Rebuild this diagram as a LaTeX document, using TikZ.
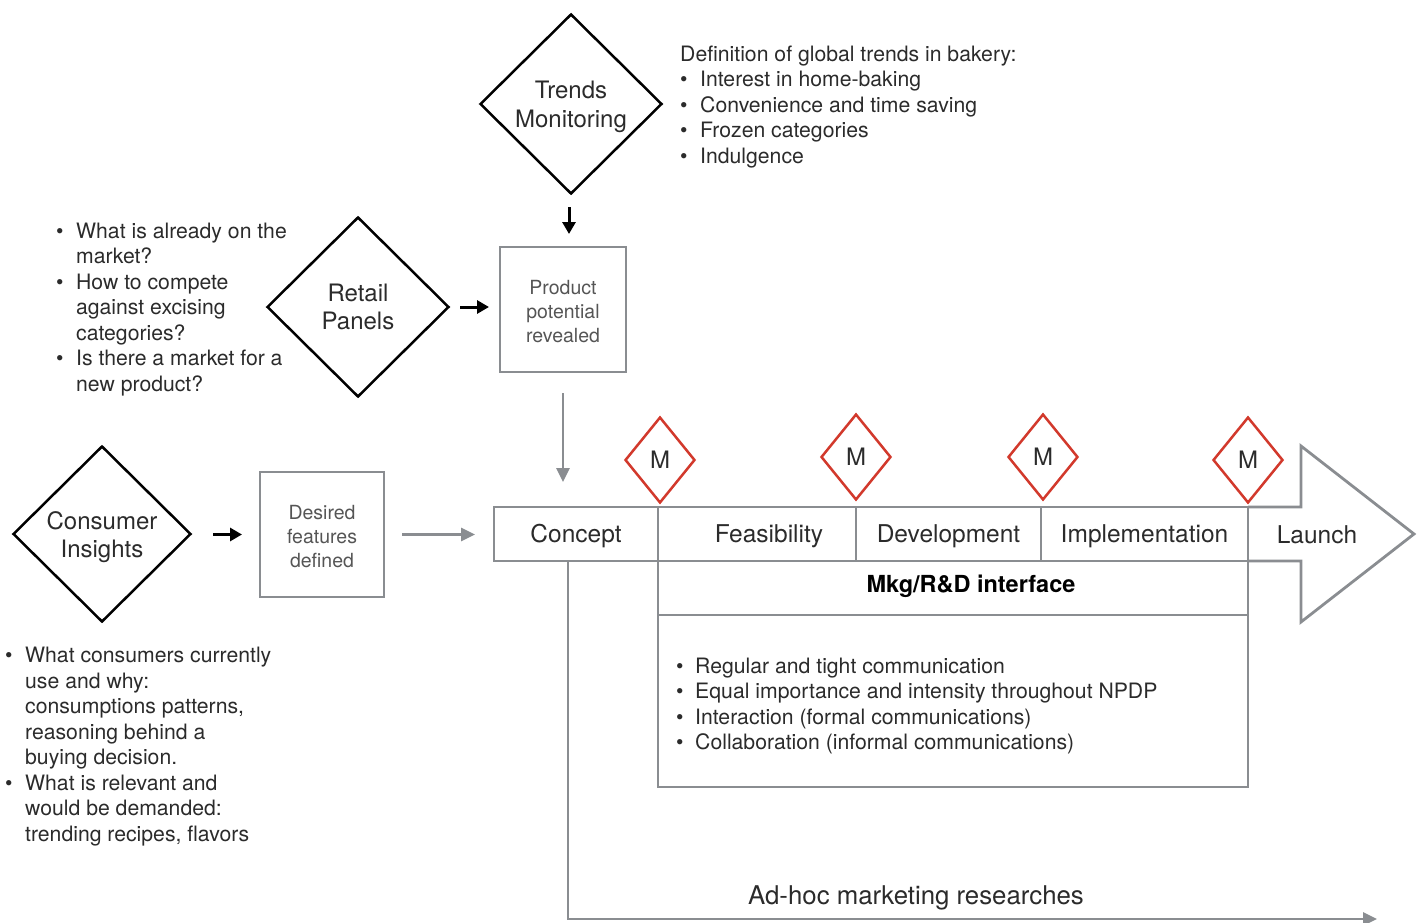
\documentclass[tikz,border=0pt]{standalone}
\usepackage{fontspec}
\setmainfont{TeX Gyre Heros}
\usetikzlibrary{shapes.geometric,arrows.meta,calc}
\definecolor{lgray}{HTML}{8A8D91}
\definecolor{mred}{HTML}{D2392C}
\definecolor{txt}{HTML}{2B2B2B}
\definecolor{btxt}{HTML}{555555}
\newcommand{\mybul}{\makebox[20pt][l]{\textbullet}}
\newcommand{\myind}{\hspace*{20pt}}
\begin{document}
\begin{tikzpicture}[x=1pt,y=-1pt,
  dia/.style={diamond, draw=black, line width=2.5pt, inner sep=0pt, minimum width=182pt, minimum height=180pt},
  dtext/.style={align=center, inner sep=0pt, font=\fontsize{24}{28.5}\selectfont, text=txt},
  gbox/.style={rectangle, draw=lgray, line width=2.8pt, inner sep=0pt, outer sep=0pt},
  btext/.style={align=center, inner sep=0pt, font=\fontsize{19.5}{24}\selectfont, text=btxt},
  stage/.style={rectangle, draw=lgray, line width=2.8pt, inner sep=0pt, outer sep=0pt, minimum height=54pt, text height=20pt, text depth=2.4pt, font=\fontsize{24.5}{28}\selectfont, text=txt},
  mdia/.style={diamond, draw=mred, line width=2.5pt, fill=white, inner sep=0pt, minimum width=70pt, minimum height=86pt, font=\fontsize{24}{28}\selectfont, text=txt},
  blk/.style={-{Triangle[length=12pt,width=13pt]}, line width=3pt, black},
  gar/.style={-{Triangle[length=14pt,width=13pt]}, line width=2.6pt, lgray},
  blist/.style={anchor=base west, align=left, inner sep=0pt, font=\fontsize{21.2}{25.5}\selectfont, text=txt},
]
\useasboundingbox (0,0) rectangle (1422,923);

% diamonds
\node[dia] (trends) at (571,104) {};
\node[dtext] (trendstext) at ([yshift=-3pt]trends.center) {Trends\\Monitoring};
\node[dia] (retail) at (358,307) {};
\node[dtext] (retailtext) at ([yshift=0pt]retail.center) {Retail\\Panels};
\node[dia, minimum width=178pt, minimum height=176pt] (consumer) at (102,534) {};
\node[dtext] (constext) at ([yshift=-3pt]consumer.center) {Consumer\\Insights};

% boxes
\node[gbox, minimum width=126pt, minimum height=125pt] (product) at (563,309.5) {};
\node[btext] (producttext) at ([yshift=-2pt]product.center) {Product\\potential\\revealed};
\node[gbox, minimum width=124pt, minimum height=125pt] (desired) at (322,534.5) {};
\node[btext] (desiredtext) at ([yshift=-2pt]desired.center) {Desired\\features\\defined};

% stages
\node[stage, minimum width=164pt] (concept) at (576,534) {Concept};
\node[stage, minimum width=198pt] (feas) at (757,534) {\hspace*{24pt}Feasibility};
\node[stage, minimum width=185pt] (dev) at (948.5,534) {Development};
\node[stage, minimum width=207pt] (impl) at (1144.5,534) {Implementation};
\draw[lgray, line width=2.8pt, line join=miter] (impl.north east) -- (1301,507) -- (1301,446) -- (1414,534) -- (1301,622) -- (1301,561) -- (impl.south east);
\node[font=\fontsize{24.5}{28}\selectfont, text=txt] (launch) at (1317,534.5) {Launch};

% interface
\node[rectangle, draw=lgray, line width=2.8pt, outer sep=0pt, minimum width=590pt, minimum height=54pt, inner sep=0pt] (mkg) at (953,588) {};
\node[font=\bfseries\fontsize{23.5}{26}\selectfont, text=black] (mkgtitle) at (971,586.5) {Mkg/R\&D interface};
\node[rectangle, draw=lgray, line width=2.8pt, outer sep=0pt, minimum width=590pt, minimum height=172pt, inner sep=0pt] (mkglist) at (953,701) {};

% M diamonds
\node[mdia] (m1) at (660,460) {M};
\node[mdia] (m2) at (856,457) {M};
\node[mdia] (m3) at (1043,457) {M};
\node[mdia] (m4) at (1248,460) {M};

% arrows
\draw[blk, shorten <=12pt, shorten >=13pt] ([xshift=-2pt]trends.south) -- ([xshift=-2pt]trends.south |- product.north);
\draw[blk, shorten <=10pt, shorten >=11pt] (retail.east) -- (retail.east -| product.west);
\draw[blk, shorten <=21pt, shorten >=18pt] (consumer.east |- desired.west) -- (desired.west);
\draw[gar, shorten <=18pt, shorten >=19pt] (desired.east) -- (desired.east -| concept.west);
\draw[gar, shorten <=21pt, shorten >=25pt] (product.south) -- (product.south |- concept.north);

% ad-hoc
\coordinate (adend) at (1377,919);
\draw[gar, line width=2.8pt] ([xshift=-8pt]concept.south) |- (adend);
\node[font=\fontsize{25.8}{30}\selectfont, text=txt] (adhoc) at (916,897.5) {Ad-hoc marketing researches};

% text lists (base anchor = last line baseline)
\node[blist] (trendlist) at (680,163.5) {Definition of global trends in bakery:\\
\mybul Interest in home-baking\\
\mybul Convenience and time saving\\
\mybul Frozen categories\\
\mybul Indulgence};

\node[blist] (retaillist) at (56,391) {\mybul What is already on the\\
\myind market?\\
\mybul How to compete\\
\myind against excising\\
\myind categories?\\
\mybul Is there a market for a\\
\myind new product?};

\node[blist] (conslist) at (5,841) {\mybul What consumers currently\\
\myind use and why:\\
\myind consumptions patterns,\\
\myind reasoning behind a\\
\myind buying decision.\\
\mybul What is relevant and\\
\myind would be demanded:\\
\myind trending recipes, flavors};

\node[blist] (mkgitems) at (676,749.5) {\makebox[19pt][l]{\textbullet}Regular and tight communication\\
\makebox[19pt][l]{\textbullet}Equal importance and intensity throughout NPDP\\
\makebox[19pt][l]{\textbullet}Interaction (formal communications)\\
\makebox[19pt][l]{\textbullet}Collaboration (informal communications)};
\end{tikzpicture}
\end{document}
